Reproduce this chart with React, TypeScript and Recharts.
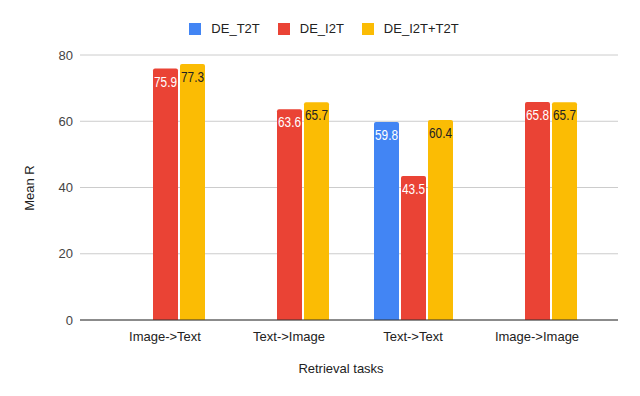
import { BarChart, Bar, XAxis, YAxis, CartesianGrid, LabelList } from "recharts";

const tasks = ["Image->Text", "Text->Image", "Text->Text", "Image->Image"];
const deT2T: (number | null)[] = [null, null, 59.8, null];
const deI2T = [75.9, 63.6, 43.5, 65.8];
const deI2TT2T = [77.3, 65.7, 60.4, 65.7];
const yTicks = [0, 20, 40, 60, 80];

const series = [
  { key: "DE_T2T", values: deT2T, color: "#4285F4", text: "#ffffff" },
  { key: "DE_I2T", values: deI2T, color: "#EA4335", text: "#ffffff" },
  { key: "DE_I2T+T2T", values: deI2TT2T, color: "#FBBC04", text: "#222222" },
];

const data = tasks.map((task, i) => {
  const row: Record<string, string | number | null> = { task };
  series.forEach((s) => {
    row[s.key] = s.values[i];
  });
  return row;
});

const font = "'Liberation Sans', Arial, sans-serif";

const valueLabel = (fill: string) => (props: any) => {
  const { x, y, width, value } = props;
  if (value == null) return null;
  return (
    <text
      x={x + width / 2}
      y={y + 18}
      textAnchor="middle"
      fill={fill}
      fontSize={14}
      fontFamily={font}
      textLength={23}
      lengthAdjust="spacingAndGlyphs"
    >
      {value}
    </text>
  );
};

export default function App() {
  return (
    <div
      style={{
        position: "absolute",
        left: 0,
        top: 0,
        width: 640,
        height: 396,
        background: "#fff",
        fontFamily: font,
      }}
    >
      <div
        style={{
          position: "absolute",
          top: 21,
          left: 0,
          width: 640,
          display: "flex",
          justifyContent: "center",
          fontSize: 13,
          color: "#222",
          paddingLeft: 26,
          boxSizing: "border-box",
        }}
      >
        {series.map((s) => (
          <div
            key={s.key}
            style={{ display: "flex", alignItems: "center", marginRight: 18 }}
          >
            <span
              style={{
                display: "inline-block",
                width: 12,
                height: 12,
                background: s.color,
                marginRight: 10,
              }}
            />
            <span>{s.key}</span>
          </div>
        ))}
      </div>
      <BarChart
        width={640}
        height={396}
        data={data}
        margin={{ top: 55, right: 22, bottom: 46, left: 0 }}
        barCategoryGap={23}
        barGap={2}
      >
        <CartesianGrid vertical={false} stroke="#cccccc" />
        <XAxis
          dataKey="task"
          padding={{ left: 23, right: 19 }}
          tickLine={false}
          axisLine={{ stroke: "#333333" }}
          tick={{ fill: "#222", fontSize: 13, fontFamily: font }}
          tickMargin={6}
        />
        <YAxis
          width={80}
          domain={[0, 80]}
          ticks={yTicks}
          axisLine={false}
          tickLine={false}
          tick={{ fill: "#444", fontSize: 13, fontFamily: font }}
          tickMargin={1}
        />
        {series.map((s) => (
          <Bar
            key={s.key}
            dataKey={s.key}
            fill={s.color}
            radius={[2, 2, 0, 0]}
            isAnimationActive={false}
          >
            <LabelList dataKey={s.key} content={valueLabel(s.text)} />
          </Bar>
        ))}
        <text
          x={34}
          y={188}
          transform="rotate(-90 34 188)"
          textAnchor="middle"
          fontSize={13}
          fill="#222"
          fontFamily={font}
        >
          Mean R
        </text>
        <text
          x={341}
          y={373}
          textAnchor="middle"
          fontSize={13}
          fill="#222"
          fontFamily={font}
        >
          Retrieval tasks
        </text>
      </BarChart>
    </div>
  );
}
